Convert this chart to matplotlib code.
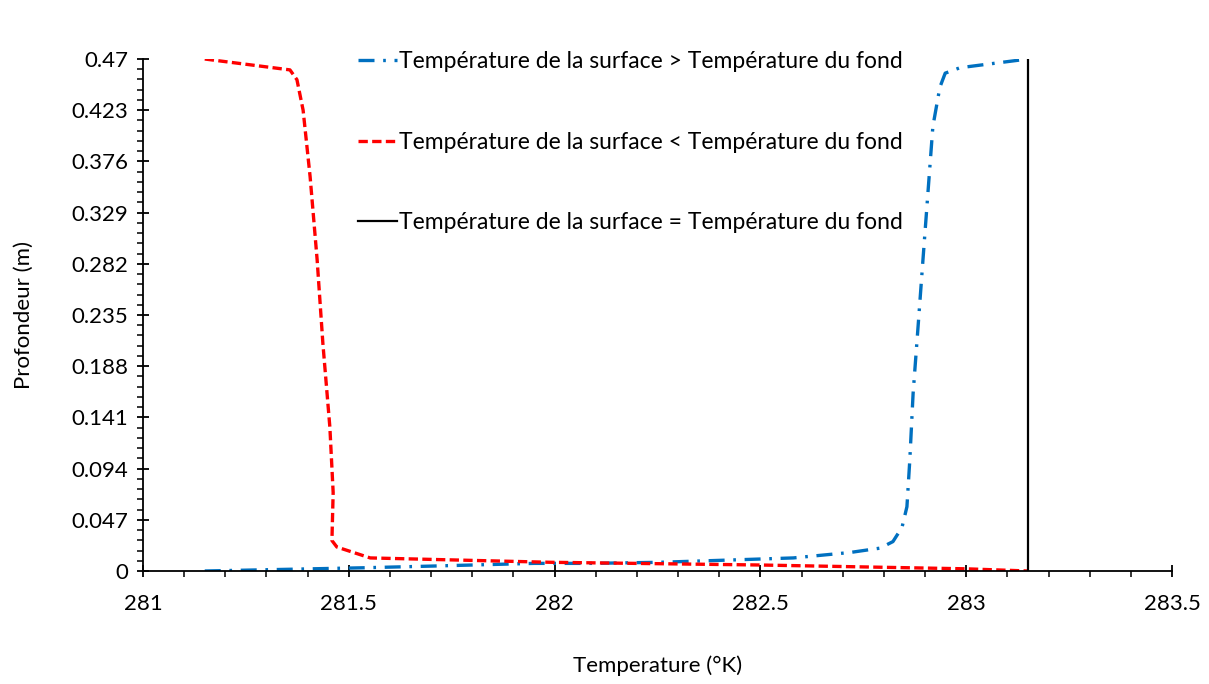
import matplotlib
matplotlib.use("Agg")
import matplotlib.pyplot as plt
from matplotlib.ticker import MultipleLocator, FixedLocator
import numpy as np

plt.rcParams['font.family'] = ['Lato', 'DejaVu Sans']

# Surface > fond (blue, dash-dot)
temp_warm = [281.15, 281.41, 281.54, 281.70, 281.95, 282.09, 282.256, 282.42, 282.58,
             282.718, 282.791, 282.822, 282.844, 282.856, 282.863, 282.871, 282.883,
             282.895, 282.907, 282.919, 282.936, 282.949, 282.985, 283.15]
depth_warm = [0.0, 0.002, 0.003, 0.0045, 0.007, 0.007, 0.008, 0.010, 0.012,
              0.017, 0.021, 0.027, 0.040, 0.059, 0.102, 0.163, 0.224,
              0.286, 0.347, 0.408, 0.444, 0.457, 0.462, 0.47]

# Surface < fond (red, dashed)
temp_cold = [281.15, 281.357, 281.374, 281.389, 281.406, 281.423, 281.437, 281.454,
             281.462, 281.459, 281.471, 281.552, 281.99, 282.5, 283.0, 283.15]
depth_cold = [0.47, 0.460, 0.451, 0.423, 0.362, 0.286, 0.209, 0.132,
              0.072, 0.028, 0.022, 0.012, 0.008, 0.0055, 0.002, 0.0]

# Surface = fond (black, solid)
temp_equal = [283.15, 283.15]
depth_equal = [0.0, 0.47]

labels = ["Température de la surface > Température du fond",
          "Température de la surface < Température du fond",
          "Température de la surface = Température du fond"]

y_ticks = [0, 0.047, 0.094, 0.141, 0.188, 0.235, 0.282, 0.329, 0.376, 0.423, 0.47]
y_tick_labels = ["0", "0.047", "0.094", "0.141", "0.188", "0.235", "0.282",
                 "0.329", "0.376", "0.423", "0.47"]
x_ticks = [281, 281.5, 282, 282.5, 283, 283.5]
x_tick_labels = ["281", "281.5", "282", "282.5", "283", "283.5"]

fig = plt.figure(figsize=(12.09, 6.84), dpi=100)
ax = fig.add_axes([143/1209, 1 - 571/684, (1172-143)/1209, (571-59)/684])

ax.plot(temp_warm, depth_warm, color='#0070C0', lw=2.4,
        linestyle=(0, (4.8, 2.6, 0.8, 2.6)), label=labels[0])
ax.plot(temp_cold, depth_cold, color='#FF0000', lw=2.4,
        linestyle=(0, (2.8, 1.3)), label=labels[1])
ax.plot(temp_equal, depth_equal, color='black', lw=1.6, label=labels[2])

ax.set_xlim(281, 283.5)
ax.set_ylim(0, 0.47)
ax.set_xticks(x_ticks)
ax.set_xticklabels(x_tick_labels)
ax.set_yticks(y_ticks)
ax.set_yticklabels(y_tick_labels)
ax.xaxis.set_minor_locator(MultipleLocator(0.1))
ax.yaxis.set_minor_locator(FixedLocator(np.arange(0, 0.4701, 0.0094)))

for s in ['top', 'right']:
    ax.spines[s].set_visible(False)
for s in ['left', 'bottom']:
    ax.spines[s].set_linewidth(1.3)

ax.tick_params(axis='both', which='major', direction='inout', length=9, width=1.3,
               labelsize=16, colors='black')
ax.tick_params(axis='both', which='minor', direction='out', length=4.5, width=1.1)
ax.tick_params(axis='x', which='major', pad=12)
ax.tick_params(axis='y', which='major', pad=6)

ax.set_xlabel("Temperature (°K)", fontsize=16, labelpad=30)
ax.set_ylabel("Profondeur (m)", fontsize=16, labelpad=27)

leg = ax.legend(loc='upper left', bbox_to_anchor=(358/1209, 1 - 51/684),
                bbox_transform=fig.transFigure, frameon=False, fontsize=16.5,
                handlelength=1.7, handletextpad=0.1, labelspacing=2.6,
                borderpad=0, borderaxespad=0)

fig.savefig("out.png", dpi=100, facecolor='white')
